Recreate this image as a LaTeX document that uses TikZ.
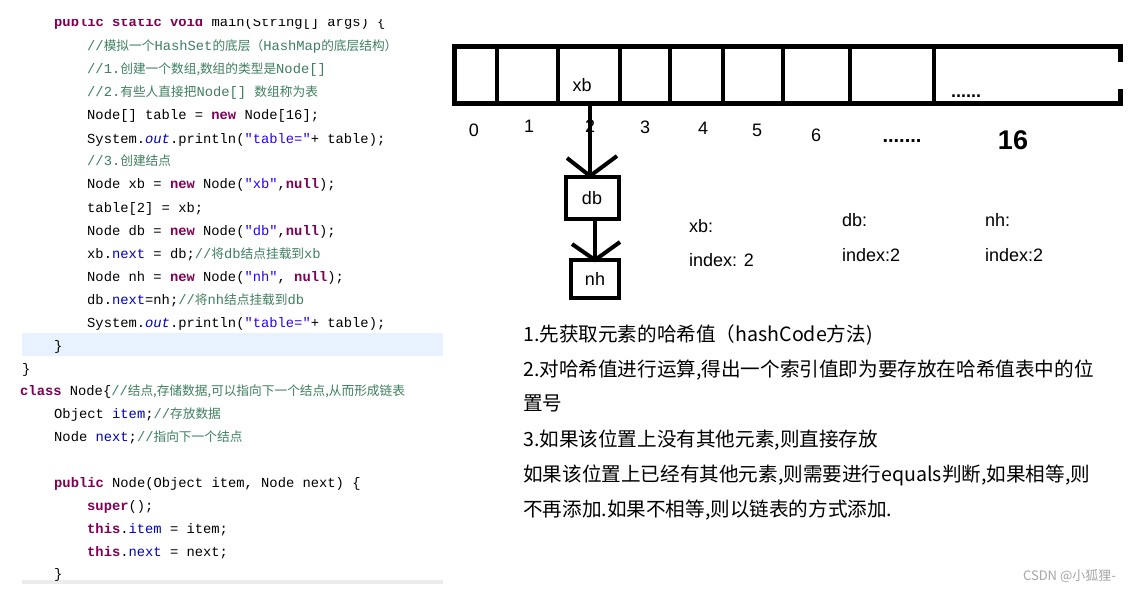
\documentclass[tikz,border=0pt]{standalone}
\usepackage{fontspec}
\setmainfont{Liberation Sans}
\setmonofont{Liberation Mono}
\newfontfamily\cjk{Noto Sans CJK SC}
\newfontfamily\cjkm{Noto Sans CJK SC}[Scale=0.92]
\definecolor{kw}{RGB}{127,0,85}
\definecolor{cmt}{RGB}{63,127,95}
\definecolor{strc}{RGB}{42,0,255}
\definecolor{fld}{RGB}{0,0,192}
\definecolor{hl}{RGB}{232,242,254}
\newcommand{\kw}[1]{{\color{kw}\bfseries #1}}
\newcommand{\cm}[1]{{\color{cmt}#1}}
\newcommand{\cz}[1]{{\cjkm #1}}
\newcommand{\st}[1]{{\color{strc}#1}}
\newcommand{\fd}[1]{{\color{fld}#1}}
\begin{document}
\begin{tikzpicture}[x=1pt,y=-1pt,
  code/.style={anchor=base west,inner sep=0pt,font=\ttfamily\fontsize{13.8}{15}\selectfont},
  txt/.style={anchor=base west,inner sep=0pt,font=\cjk\fontsize{19.6}{21}\selectfont},
  lab/.style={inner sep=0pt,font=\fontsize{18}{20}\selectfont},
  arr/.style={line width=4pt}]
\useasboundingbox (0,0) rectangle (1130,591);
\fill[white] (0,0) rectangle (1130,591);
% code panel
\fill[hl] (22,333) rectangle (443,356);
\fill[gray!15] (22,580) rectangle (443,584);
\node[code] (c0) at (54,27) {\kw{public} \kw{static} \kw{void} main(String[] args) \{};
\fill[white] (0,0) rectangle (450,19);
\node[code] (c1) at (87,51) {\cm{//\cz{模拟一个}HashSet\cz{的底层（}HashMap\cz{的底层结构）}}};
\node[code] (c2) at (87,74) {\cm{//1.\cz{创建一个数组,数组的类型是}Node[]}};
\node[code] (c3) at (87,97) {\cm{//2.\cz{有些人直接把}Node[] \cz{数组称为表}}};
\node[code] (c4) at (87,120) {Node[] table = \kw{new} Node[16];};
\node[code] (c5) at (87,143) {System.\fd{\itshape out}.println(\st{"table="}+ table);};
\node[code] (c6) at (87,166) {\cm{//3.\cz{创建结点}}};
\node[code] (c7) at (87,189) {Node xb = \kw{new} Node(\st{"xb"},\kw{null});};
\node[code] (c8) at (87,212) {table[2] = xb;};
\node[code] (c9) at (87,235) {Node db = \kw{new} Node(\st{"db"},\kw{null});};
\node[code] (c10) at (87,258) {xb.\fd{next} = db;\cm{//\cz{将}db\cz{结点挂载到}xb}};
\node[code] (c11) at (87,281) {Node nh = \kw{new} Node(\st{"nh"}, \kw{null});};
\node[code] (c12) at (87,304) {db.\fd{next}=nh;\cm{//\cz{将}nh\cz{结点挂载到}db}};
\node[code] (c13) at (87,327) {System.\fd{\itshape out}.println(\st{"table="}+ table);};
\node[code] (c14) at (54,350) {\}};
\node[code] (c15) at (22,373) {\}};
\node[code] (c16) at (20,395) {\kw{class} Node\{\cm{//\cz{结点,存储数据,可以指向下一个结点,从而形成链表}}};
\node[code] (c17) at (54,418) {Object \fd{item};\cm{//\cz{存放数据}}};
\node[code] (c18) at (54,441) {Node \fd{next};\cm{//\cz{指向下一个结点}}};
\node[code] (c19) at (54,487) {\kw{public} Node(Object item, Node next) \{};
\node[code] (c20) at (87,510) {\kw{super}();};
\node[code] (c21) at (87,533) {\kw{this}.\fd{item} = item;};
\node[code] (c22) at (87,556) {\kw{this}.\fd{next} = next;};
\node[code] (c23) at (54,578) {\}};
% array
\draw[line width=5pt] (1120,62) -- (1120,47) -- (454,47) -- (454,104) -- (1120,104) -- (1120,89);
\foreach \x in {497,558,620,670,723,783,850,934}
  \draw[line width=4.5pt] (\x,45) -- (\x,106);
\node[lab] (xb) at (582,85) {xb};
\node[inner sep=0pt,font=\bfseries\fontsize{18}{19}\selectfont] (d1) at (966,96) {......};
\foreach \t/\x/\y in {0/474/130,1/529/126,2/590/126,3/645/127,4/703/128,5/757/130,6/816/135}
  \node[lab] (i\t) at (\x,\y) {\t};
\node[inner sep=0pt,font=\bfseries\fontsize{20}{21}\selectfont] (d2) at (902,141) {.......};
\node[inner sep=0pt,font=\bfseries\fontsize{27}{29}\selectfont] (n16) at (1013,140) {16};
% chain
\node[draw,line width=4pt,minimum width=53pt,minimum height=42pt,inner sep=0pt,lab] (db) at (592,198) {db};
\node[draw,line width=4pt,minimum width=48pt,minimum height=38pt,inner sep=0pt,lab] (nh) at (595,279) {nh};
\coordinate (a0) at (590,104);
\draw[arr] (a0) -- (db.north -| a0);
\draw[arr] (567,158) -- (590,176) -- (617,156);
\draw[arr] (db.south -| 595,0) -- (nh.north);
\draw[arr] (572,244) -- (595,260) -- (620,242);
% info
\node[lab,anchor=base west] (t1) at (689,232) {xb:};
\node[lab,anchor=base west] (t2) at (689,266) {index: 2};
\node[lab,anchor=base west] (t3) at (842,226) {db:};
\node[lab,anchor=base west] (t4) at (842,261) {index:2};
\node[lab,anchor=base west] (t5) at (985,226) {nh:};
\node[lab,anchor=base west] (t6) at (985,261) {index:2};
% explanation
\node[txt] (e1) at (523,341) {1.先获取元素的哈希值（hashCode方法)};
\node[txt] (e2) at (523,376) {2.对哈希值进行运算,得出一个索引值即为要存放在哈希值表中的位};
\node[txt] (e3) at (523,410) {置号};
\node[txt] (e4) at (523,446) {3.如果该位置上没有其他元素,则直接存放};
\node[txt] (e5) at (523,481) {如果该位置上已经有其他元素,则需要进行equals判断,如果相等,则};
\node[txt] (e6) at (523,516) {不再添加.如果不相等,则以链表的方式添加.};
\node[anchor=base east,inner sep=0pt,font=\cjk\fontsize{13}{14}\selectfont,text=gray!70] (wm) at (1116,580) {CSDN @小狐狸-};
\end{tikzpicture}
\end{document}
